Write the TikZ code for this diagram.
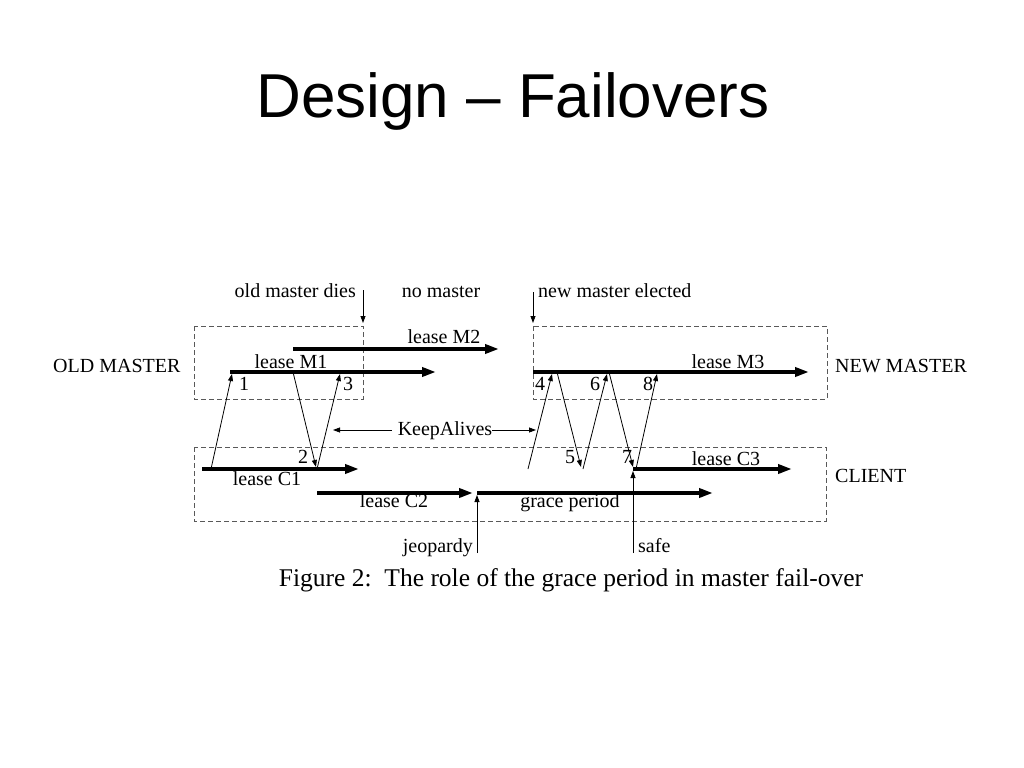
\documentclass[tikz,border=0pt]{standalone}
\usepackage{fontspec}
\setmainfont{Liberation Serif}
\newfontfamily\titlefont{Liberation Sans}
\usetikzlibrary{arrows.meta}

\begin{document}
\begin{tikzpicture}[x=1bp, y=-1bp,
		lease/.style={line width=4bp, -{Triangle[length=14bp,width=9bp]}},
		msg/.style={line width=0.8bp, -{Triangle[length=7bp,width=5bp]}},
		role/.style={draw=black!65, line width=0.8bp, dash pattern=on 5bp off 3bp},
		lbl/.style={inner sep=0pt, anchor=base, font=\fontsize{20bp}{24bp}\selectfont}]
	\useasboundingbox (0,0) rectangle (1024,768);

	% Title
	\node[inner sep=0pt, anchor=base, font=\titlefont\fontsize{62bp}{70bp}\selectfont] (title) at (513,117) {Design – Failovers};

	% Role boxes
	\draw[role] (194,326) rectangle (363,399);
	\draw[role] (533,326) rectangle (827,399);
	\draw[role] (194,447) rectangle (826,521);
	\node[lbl, anchor=base west] (oldm) at (53,372) {OLD MASTER};
	\node[lbl, anchor=base west] (newm) at (835,372) {NEW MASTER};
	\node[lbl, anchor=base west] (client) at (835,482) {CLIENT};

	% Leases
	\coordinate (m1s) at (230,372); \coordinate (m1e) at (436,372);
	\coordinate (m2s) at (293,349); \coordinate (m2e) at (499,349);
	\coordinate (m3s) at (533,372); \coordinate (m3e) at (809,372);
	\coordinate (c1s) at (202,469); \coordinate (c1e) at (359,469);
	\coordinate (c2s) at (317,493); \coordinate (c2e) at (473,493);
	\coordinate (gps) at (477,493); \coordinate (gpe) at (713,493);
	\coordinate (c3s) at (633,469); \coordinate (c3e) at (792,469);
	\draw[lease] (m1s) -- (m1e);
	\draw[lease] (m2s) -- (m2e);
	\draw[lease] (m3s) -- (m3e);
	\draw[lease] (c1s) -- (c1e);
	\draw[lease] (c2s) -- (c2e);
	\draw[lease] (gps) -- (gpe);
	\draw[lease] (c3s) -- (c3e);
	\node[lbl] (lm1) at (291,368) {lease M1};
	\node[lbl] (lm2) at (444,343) {lease M2};
	\node[lbl] (lm3) at (728,368) {lease M3};
	\node[lbl] (lc1) at (267,485) {lease C1};
	\node[lbl] (lc2) at (394,507) {lease C2};
	\node[lbl] (grace) at (570,507) {grace period};
	\node[lbl] (lc3) at (726,465) {lease C3};

	% Client to master
	\foreach \n/\a/\b in {1/211/232, 3/317/340, 4/528/552, 6/583/607, 8/636/657} {
		\coordinate (up\n) at (\a,469);
		\coordinate (tip\n) at (\b,374);
		\draw[msg] (up\n) -- (tip\n);
	}
	% Master to client
	\foreach \n/\a/\b in {2/293/316, 5/557/581, 7/609/633} {
		\coordinate (dn\n) at (\a,372);
		\coordinate (tip\n) at (\b,467);
		\draw[msg] (dn\n) -- (tip\n);
	}
	\foreach \n/\a/\b in {1/239/390, 3/343/390, 4/535/390, 6/590/390, 8/643/390, 2/298/463, 5/565/463, 7/622/463}
		\node[lbl, anchor=base west] (num\n) at (\a,\b) {\n};

	% KeepAlives
	\node[lbl] (keep) at (445,435) {KeepAlives};
	\coordinate (kaL) at (333,430);
	\coordinate (kaR) at (536,430);
	\draw[msg, shorten <=6bp] (keep.west |- kaL) -- (kaL);
	\draw[msg] (keep.east |- kaR) -- (kaR);

	% Events
	\node[lbl, anchor=base east] (dies) at (356,297) {old master dies};
	\node[lbl] (nom) at (441,297) {no master};
	\node[lbl, anchor=base west] (elect) at (538,297) {new master elected};
	\coordinate (dieA) at (363,290); \coordinate (dieB) at (363,323);
	\coordinate (elA) at (533,292); \coordinate (elB) at (533,323);
	\draw[msg] (dieA) -- (dieB);
	\draw[msg] (elA) -- (elB);
	\node[lbl, anchor=base east] (jeo) at (473,552) {jeopardy};
	\node[lbl, anchor=base west] (safe) at (638,552) {safe};
	\coordinate (jeoA) at (477,553); \coordinate (jeoB) at (477,495);
	\coordinate (safeA) at (633,553); \coordinate (safeB) at (633,471);
	\draw[msg] (jeoA) -- (jeoB);
	\draw[msg] (safeA) -- (safeB);

	% Caption
	\node[inner sep=0pt, anchor=base, font=\fontsize{25.5bp}{30bp}\selectfont] (cap) at (571,586) {Figure 2:\ \ The role of the grace period in master fail-over};
\end{tikzpicture}
\end{document}
